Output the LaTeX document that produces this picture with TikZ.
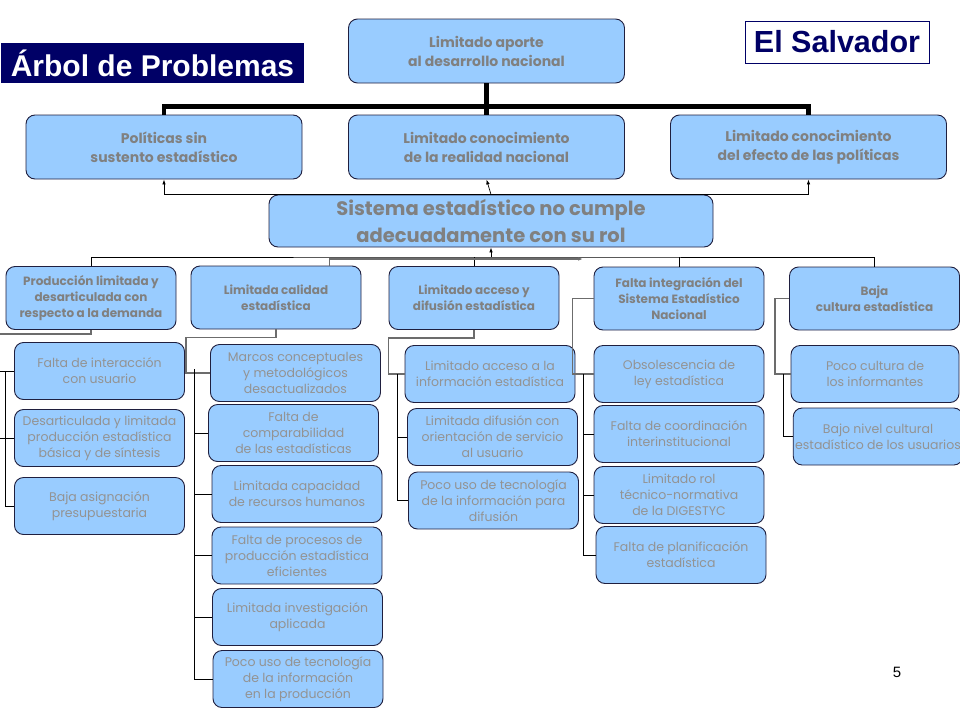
\documentclass[tikz,border=0pt]{standalone}
\usepackage{fontspec}
\setmainfont{Poppins}
\newfontfamily\titlefont{Liberation Sans}
\usetikzlibrary{arrows.meta}
\definecolor{boxblue}{HTML}{99CCFF}
\definecolor{boxline}{HTML}{1F1F3F}
\definecolor{navy}{HTML}{000066}
\definecolor{txtgray}{HTML}{808080}
\definecolor{leafgray}{HTML}{939393}

\begin{document}
\begin{tikzpicture}[x=1pt,y=-1pt,
  box/.style={draw=boxline,fill=boxblue,rounded corners=9pt,align=center,line width=0.9pt,inner sep=2pt},
  effectbox/.style={box,minimum width=276pt,minimum height=64pt,text=txtgray,font=\fontsize{14}{19}\selectfont\bfseries},
  causebox/.style={box,minimum width=170pt,minimum height=63pt,text=txtgray,font=\fontsize{12}{16}\selectfont\bfseries},
  leafbox/.style={box,minimum width=170pt,minimum height=57pt,text=leafgray,font=\fontsize{12.5}{16}\selectfont},
  link/.style={draw=black,line width=0.7pt},
  graylink/.style={draw=gray!85!black,line width=1.4pt},
  arr/.style={link,-{Latex[length=5pt,width=3.5pt]}}]
\useasboundingbox (0,0) rectangle (960,720);

\node[fill=navy,text=white,minimum width=303pt,minimum height=40pt,inner sep=0pt,font=\titlefont\fontsize{30}{30}\selectfont\bfseries] (titulo) at (152.5,63) {Árbol de Problemas};
\node[draw=navy,line width=0.8pt,fill=white,text=navy,minimum width=184pt,minimum height=42pt,inner sep=0pt,font=\titlefont\fontsize{30.5}{30}\selectfont\bfseries] (pais) at (837,42) {El Salvador};

\node[effectbox] (aporte) at (486.5,51) {Limitado aporte\\al desarrollo nacional};
\node[effectbox] (politicas) at (164,147) {Políticas sin\\sustento estadístico};
\node[effectbox] (realidad) at (486.5,147) {Limitado conocimiento\\de la realidad nacional};
\node[effectbox] (efecto) at (808.5,147) {Limitado conocimiento\\del efecto de las políticas};
\node[box,minimum width=444pt,minimum height=52pt,text=txtgray,font=\fontsize{19.5}{27}\selectfont\bfseries] (sistema) at (491,221) {Sistema estadístico no cumple\\adecuadamente con su rol};

\node[causebox] (produccion) at (91,298) {Producción limitada y\\desarticulada con\\respecto a la demanda};
\node[causebox] (calidad) at (276,297.5) {Limitada calidad\\estadística};
\node[causebox] (acceso) at (474,298) {Limitado acceso y\\difusión estadística};
\node[causebox] (integracion) at (679,298.5) {Falta integración del\\Sistema Estadístico\\Nacional};
\node[causebox] (cultura) at (874.5,298.5) {Baja\\cultura estadística};

\node[leafbox] (interaccion) at (99.5,371) {Falta de interacción\\con usuario};
\node[leafbox] (desarticulada) at (99.5,438) {Desarticulada y limitada\\producción estadística\\básica y de síntesis};
\node[leafbox] (asignacion) at (99.5,506) {Baja asignación\\presupuestaria};

\node[leafbox] (marcos) at (295.5,373) {Marcos conceptuales\\y metodológicos\\desactualizados};
\node[leafbox] (comparabilidad) at (293.5,433) {Falta de\\comparabilidad\\de las estadísticas};
\node[leafbox] (recursos) at (297,494) {Limitada capacidad\\de recursos humanos};
\node[leafbox] (procesos) at (297,555.5) {Falta de procesos de\\producción estadística\\eficientes};
\node[leafbox] (investigacion) at (297.5,617) {Limitada investigación\\aplicada};
\node[leafbox] (tecprod) at (298,679) {Poco uso de tecnología\\de la información\\en la producción};

\node[leafbox] (accinfo) at (490,374) {Limitado acceso a la\\información estadística};
\node[leafbox] (difusion) at (492.5,437) {Limitada difusión con\\orientación de servicio\\al usuario};
\node[leafbox] (tecdif) at (493.5,500.5) {Poco uso de tecnología\\de la información para\\difusión};

\node[leafbox] (ley) at (679,374) {Obsolescencia de\\ley estadística};
\node[leafbox] (coordinacion) at (679,434) {Falta de coordinación\\interinstitucional};
\node[leafbox] (rol) at (679,495) {Limitado rol\\técnico-normativa\\de la DIGESTYC};
\node[leafbox] (planificacion) at (681,555) {Falta de planificación\\estadística};

\node[leafbox,minimum width=168pt] (informantes) at (875,374) {Poco cultura de\\los informantes};
\node[leafbox,minimum width=168pt] (usuarios) at (878,436.5) {Bajo nivel cultural\\estadístico de los usuarios};

\node[font=\titlefont\fontsize{15}{16}\selectfont] (pagina) at (897,672) {5};

\draw[line width=4.5pt] (aporte.south) -- ++(0,23) coordinate (tronco);
\draw[line width=4.5pt] (politicas.north) |- (tronco) -| (efecto.north);
\draw[line width=4.5pt] (tronco) -- (realidad.north);

\draw[arr] (sistema.north) -- (realidad.south);
\draw[arr] (sistema.north) -| (politicas.south);
\draw[arr] (sistema.north) -| (efecto.south);

\coordinate (bus) at (491,257);
\coordinate (flecha) at (583,259);
\draw[arr] (bus) -- (sistema.south);
\draw[link] (produccion.north) |- (bus) -| (cultura.north);
\draw[link] (acceso.north) -- (acceso.north |- bus);
\draw[link] (integracion.north) -- (integracion.north |- bus);
\draw[graylink,-{Latex[length=5pt,width=3.5pt]}] ([xshift=-32pt]calidad.north east) |- (flecha);

\coordinate (borde) at (0,0);
\coordinate (eje1) at (5,0);
\coordinate (eje2) at (194,0);
\coordinate (eje3) at (397,0);
\coordinate (eje4) at (583,0);
\coordinate (eje5) at (783,0);

\draw[graylink] (produccion.south) -- ++(0,4) -- ++(-91,0);
\draw[link] (interaccion.west -| eje1) |- (asignacion.west);
\foreach \n in {interaccion,desarticulada}
  \draw[link] (\n.west -| borde) -- (\n.west);

\draw[graylink] (calidad.south) -- ++(0,8) -| ([xshift=-24pt]marcos.west) -- (marcos.west);
\draw[link] ([yshift=4pt]marcos.west -| eje2) |- (tecprod.west);
\foreach \n in {comparabilidad,recursos,procesos,investigacion}
  \draw[link] (\n.west -| eje2) -- (\n.west);

\draw[graylink] (acceso.south) -- ++(0,8) -| ([xshift=-16pt]accinfo.west) -- (accinfo.west);
\draw[link] (accinfo.west -| eje3) |- (tecdif.west);
\draw[link] (difusion.west -| eje3) -- (difusion.west);

\draw[graylink] (integracion.west) -- ++(-21,0) |- (ley.west);
\draw[link] (ley.west -| eje4) |- (planificacion.west);
\foreach \n in {coordinacion,rol}
  \draw[link] (\n.west -| eje4) -- (\n.west);

\draw[graylink] (cultura.west) -- ++(-14,0) |- (informantes.west);
\draw[link] (informantes.west -| eje5) |- (usuarios.west);
\end{tikzpicture}
\end{document}
